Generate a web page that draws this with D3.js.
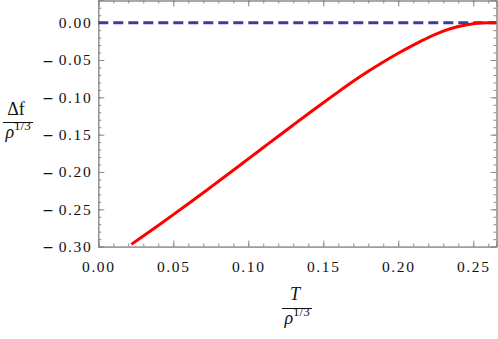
<!DOCTYPE html>
<html><head><meta charset="utf-8">
<script src="https://cdn.jsdelivr.net/npm/d3@7"></script>
<style>
body{margin:0;background:#fff;}
svg{display:block;}
svg text{font-family:"Liberation Serif","Times New Roman",serif;fill:#111;}
</style></head>
<body><svg id="c" width="498" height="339"></svg>
<script>
const tValues = [0.022,0.03,0.04,0.05,0.06,0.07,0.08,0.09,0.10,0.11,0.12,0.13,0.14,0.15,0.16,0.17,0.18,0.19,0.20,0.21,0.22,0.23,0.24,0.25,0.255,0.26,0.2655];
const fValues = [-0.297,-0.2858,-0.2716,-0.2572,-0.2426,-0.2278,-0.2128,-0.1977,-0.1825,-0.1673,-0.1521,-0.1370,-0.1220,-0.1072,-0.0927,-0.0786,-0.0652,-0.0526,-0.0409,-0.0300,-0.0199,-0.0113,-0.0051,-0.0014,-0.0005,0,0];
const refValue = [0];
const xTicks = [0.00,0.05,0.10,0.15,0.20,0.25];
const yTicks = [0.00,-0.05,-0.10,-0.15,-0.20,-0.25,-0.30];
const xDomain = [0, 0.2655];
const yDomain = [-0.30, 0.0304];

const svg = d3.select("#c");
const L=98.3, R=496.5, T=0, B=246.6;
const x = d3.scaleLinear().domain(xDomain).range([L,R]);
const y = d3.scaleLinear().domain(yDomain).range([B,T]);
const frameColor="#8a8a8a";

const xMinor = d3.range(0,0.2656,0.01);
const yMinor = d3.range(-0.30,0.031,0.01);

function styleAxis(g){
  g.attr("font-family",null);
  g.select(".domain").attr("stroke",frameColor).attr("stroke-width",1);
  g.selectAll(".tick line").attr("stroke",frameColor).attr("stroke-width",1);
}
// bottom
svg.append("g").attr("transform",`translate(0,${B})`)
  .call(d3.axisBottom(x).tickValues(xMinor).tickSize(-3).tickFormat("")).call(styleAxis);
const bx = svg.append("g").attr("transform",`translate(0,${B})`)
  .call(d3.axisBottom(x).tickValues(xTicks).tickSize(-6).tickPadding(14).tickFormat(d3.format(".2f"))).call(styleAxis);
bx.selectAll("text").attr("font-size","15.5px").attr("letter-spacing","1.6px").attr("fill","#111").attr("dy","0.71em");
// top
svg.append("g").attr("transform",`translate(0,${T+0.5})`)
  .call(d3.axisTop(x).tickValues(xMinor).tickSize(-3).tickFormat("")).call(styleAxis);
svg.append("g").attr("transform",`translate(0,${T+0.5})`)
  .call(d3.axisTop(x).tickValues(xTicks).tickSize(-6).tickFormat("")).call(styleAxis);
// left
svg.append("g").attr("transform",`translate(${L},0)`)
  .call(d3.axisLeft(y).tickValues(yMinor).tickSize(-3).tickFormat("")).call(styleAxis);
const ly = svg.append("g").attr("transform",`translate(${L},0)`)
  .call(d3.axisLeft(y).tickValues(yTicks).tickSize(-6).tickPadding(6)
    .tickFormat(d => d3.format(".2f")(Math.abs(d)))).call(styleAxis);
ly.selectAll("text").attr("font-size","15.5px").attr("letter-spacing","1.6px").attr("fill","#111");
ly.selectAll(".tick").filter(d => d < 0).append("text")
  .attr("x",-46).attr("dy","0.30em").attr("text-anchor","end")
  .attr("font-size","17px").attr("fill","#111").attr("font-weight","bold").text("\u2013");

// right
svg.append("g").attr("transform",`translate(${R},0)`)
  .call(d3.axisRight(y).tickValues(yMinor).tickSize(-3).tickFormat("")).call(styleAxis);
svg.append("g").attr("transform",`translate(${R},0)`)
  .call(d3.axisRight(y).tickValues(yTicks).tickSize(-6).tickFormat("")).call(styleAxis);

svg.append("clipPath").attr("id","clip").append("rect").attr("x",L).attr("y",T).attr("width",R-L).attr("height",B-T);

// dashed reference line
svg.append("g").attr("clip-path","url(#clip)").selectAll("line.ref").data(refValue).join("line")
  .attr("x1",x(xDomain[0])).attr("x2",x(xDomain[1])).attr("y1",d=>y(d)).attr("y2",d=>y(d))
  .attr("stroke","#3c3c9e").attr("stroke-width",3).attr("stroke-dasharray","10,5");

// red curve
const pts = tValues.map((t,i)=>[t,fValues[i]]);
svg.append("path").attr("clip-path","url(#clip)").datum(pts)
  .attr("d", d3.line().x(d=>x(d[0])).y(d=>y(d[1])).curve(d3.curveMonotoneX))
  .attr("fill","none").attr("stroke","#ff0000").attr("stroke-width",3);

// y label
const yl = svg.append("g").attr("transform","translate(18,0)");
yl.append("text").attr("x",-2).attr("y",115).attr("text-anchor","middle").attr("font-size","18px").text("Δf");
yl.append("line").attr("x1",-15).attr("x2",15).attr("y1",122.5).attr("y2",122.5).attr("stroke","#111").attr("stroke-width",1);
const yd = yl.append("text").attr("x",0).attr("y",138).attr("text-anchor","middle").attr("font-size","18px");
yd.append("tspan").attr("font-style","italic").text("ρ");
yd.append("tspan").attr("font-size","13px").attr("dy","-8").text("1/3");

// x label
const xl = svg.append("g").attr("transform","translate(297,0)");
xl.append("text").attr("x",-2).attr("y",300).attr("text-anchor","middle").attr("font-size","18px").attr("font-style","italic").text("T");
xl.append("line").attr("x1",-15).attr("x2",15).attr("y1",308.5).attr("y2",308.5).attr("stroke","#111").attr("stroke-width",1);
const xd = xl.append("text").attr("x",0).attr("y",324).attr("text-anchor","middle").attr("font-size","18px");
xd.append("tspan").attr("font-style","italic").text("ρ");
xd.append("tspan").attr("font-size","13px").attr("dy","-8").text("1/3");
</script></body></html>
